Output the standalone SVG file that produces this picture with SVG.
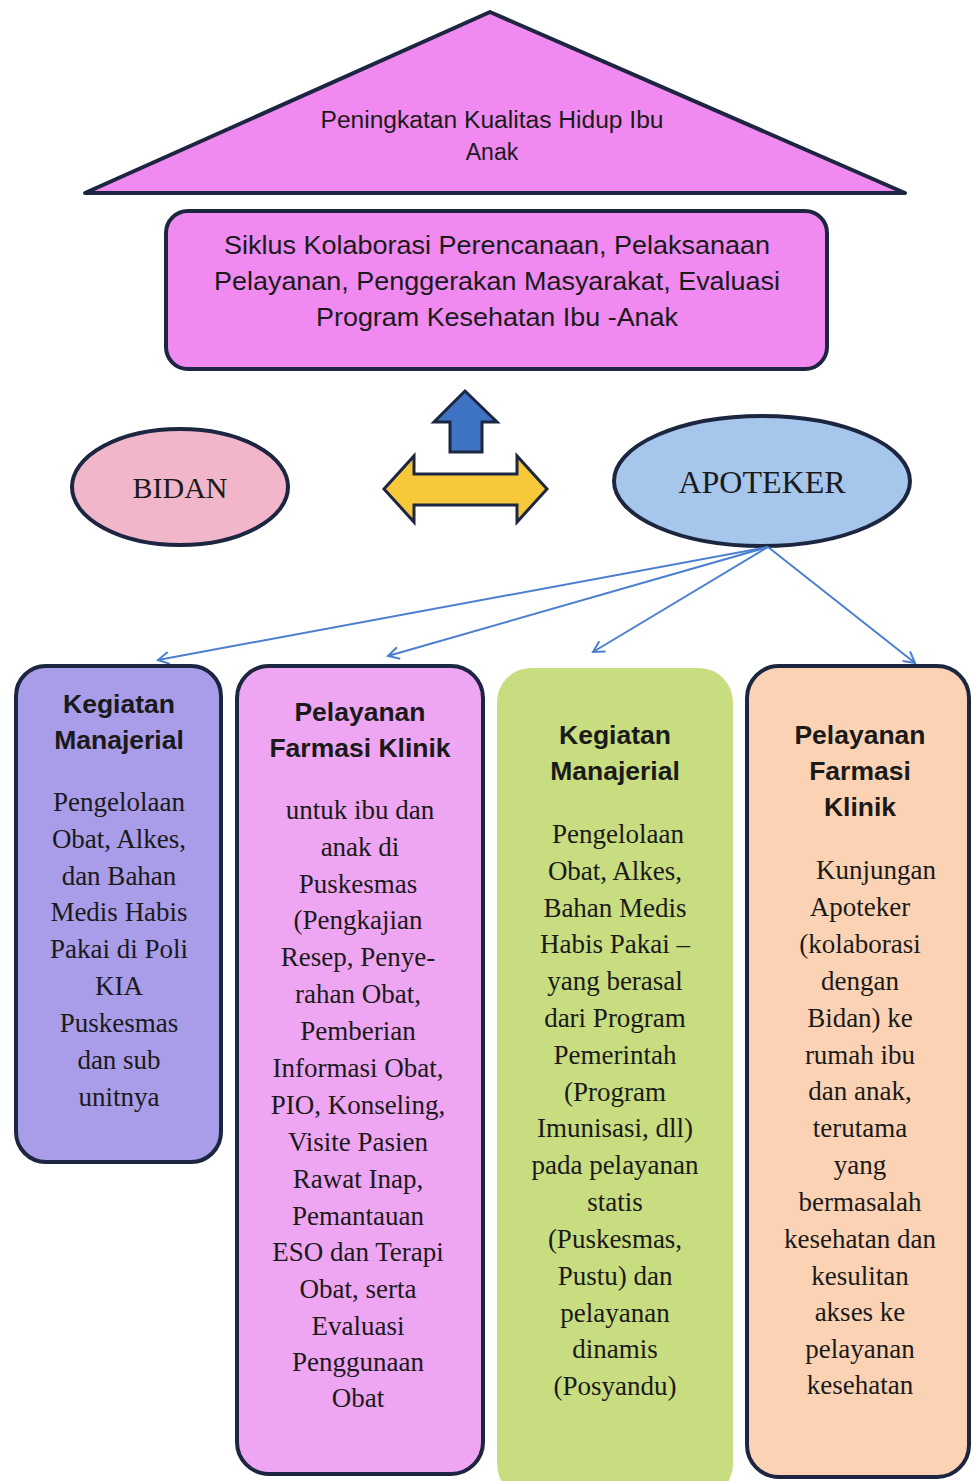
<svg xmlns="http://www.w3.org/2000/svg" width="973" height="1481" viewBox="0 0 973 1481">
<style>
.sans{font-family:"Liberation Sans",Arial,sans-serif;fill:#1a1a1a;text-anchor:middle}
.hd{font-family:"Liberation Sans",Arial,sans-serif;font-weight:bold;font-size:26.5px;fill:#1a1a1a;text-anchor:middle}
.bd{font-family:"Liberation Serif","Times New Roman",serif;font-size:27px;fill:#1a1a1a;text-anchor:middle}
.stk{stroke:#1c2640;stroke-width:4}
.conn{stroke:#4a7fd0;stroke-width:2;fill:none;marker-end:url(#ah)}
</style>
<defs>
<marker id="ah" viewBox="0 0 14 14" refX="12" refY="7" markerWidth="14" markerHeight="14" markerUnits="userSpaceOnUse" orient="auto">
<path d="M1,1 L12,7 L1,13" fill="none" stroke="#4a7fd0" stroke-width="2"/>
</marker>
</defs>
<rect width="973" height="1481" fill="#ffffff"/>
<g id="goal">
<polygon points="490,12 905,193 85,193" fill="#f08af0" class="stk" stroke-linejoin="round"/>
<text class="sans" font-size="23" x="492" y="128" textLength="343" lengthAdjust="spacingAndGlyphs">Peningkatan Kualitas Hidup Ibu</text>
<text class="sans" font-size="23" x="492" y="160">Anak</text>
</g>
<g id="siklus">
<rect x="166" y="211" width="661" height="158" rx="22" fill="#f08af0" class="stk"/>
<text class="sans" font-size="26.5" x="497" y="254" textLength="546" lengthAdjust="spacingAndGlyphs">Siklus Kolaborasi Perencanaan, Pelaksanaan</text>
<text class="sans" font-size="26.5" x="497" y="290" textLength="566" lengthAdjust="spacingAndGlyphs">Pelayanan, Penggerakan Masyarakat, Evaluasi</text>
<text class="sans" font-size="26.5" x="497" y="326" textLength="362" lengthAdjust="spacingAndGlyphs">Program Kesehatan Ibu -Anak</text>
</g>
<g id="up-arrow">
<polygon points="465,391 497,422 482,422 482,452 450,452 450,422 434,422" fill="#3f74c4" stroke="#1c2640" stroke-width="3" stroke-linejoin="miter"/>
</g>
<g id="double-arrow">
<polygon points="384,489 414,456 414,474 517,474 517,456 547,489 517,522 517,505 414,505 414,522" fill="#f7c93a" stroke="#1c2640" stroke-width="3"/>
</g>
<g id="bidan">
<ellipse cx="180" cy="487" rx="108" ry="58" fill="#f2b6ca" class="stk"/>
<text x="180" y="498" font-family="'Liberation Serif','Times New Roman',serif" font-size="30" fill="#1a1a1a" text-anchor="middle">BIDAN</text>
</g>
<g id="apoteker">
<ellipse cx="762" cy="481" rx="148" ry="65" fill="#a6c6ec" class="stk"/>
<text x="762" y="493" font-family="'Liberation Serif','Times New Roman',serif" font-size="32" fill="#1a1a1a" text-anchor="middle">APOTEKER</text>
</g>
<g id="connectors">
<line class="conn" x1="768" y1="547" x2="158" y2="660"/>
<line class="conn" x1="768" y1="547" x2="388" y2="656"/>
<line class="conn" x1="768" y1="547" x2="593" y2="652"/>
<line class="conn" x1="768" y1="547" x2="915" y2="663"/>
</g>
<g id="box1">
<rect x="16" y="666" width="205" height="496" rx="30" fill="#a99ce8" class="stk"/>
<text class="hd" x="119" y="713">Kegiatan</text>
<text class="hd" x="119" y="749">Manajerial</text>
<text class="bd" x="119" y="811">Pengelolaan</text>
<text class="bd" x="119" y="848">Obat, Alkes,</text>
<text class="bd" x="119" y="885">dan Bahan</text>
<text class="bd" x="119" y="921">Medis Habis</text>
<text class="bd" x="119" y="958">Pakai di Poli</text>
<text class="bd" x="119" y="995">KIA</text>
<text class="bd" x="119" y="1032">Puskesmas</text>
<text class="bd" x="119" y="1069">dan sub</text>
<text class="bd" x="119" y="1106">unitnya</text>
</g>
<g id="box2">
<rect x="237" y="666" width="246" height="808" rx="32" fill="#efa6f2" class="stk"/>
<text class="hd" x="360" y="721">Pelayanan</text>
<text class="hd" x="360" y="757">Farmasi Klinik</text>
<text class="bd" x="360" y="819">untuk ibu dan</text>
<text class="bd" x="360" y="856">anak di</text>
<text class="bd" x="358" y="893">Puskesmas</text>
<text class="bd" x="358" y="929">(Pengkajian</text>
<text class="bd" x="358" y="966">Resep, Penye-</text>
<text class="bd" x="358" y="1003">rahan Obat,</text>
<text class="bd" x="358" y="1040">Pemberian</text>
<text class="bd" x="358" y="1077">Informasi Obat,</text>
<text class="bd" x="358" y="1114">PIO, Konseling,</text>
<text class="bd" x="358" y="1151">Visite Pasien</text>
<text class="bd" x="358" y="1188">Rawat Inap,</text>
<text class="bd" x="358" y="1225">Pemantauan</text>
<text class="bd" x="358" y="1261">ESO dan Terapi</text>
<text class="bd" x="358" y="1298">Obat, serta</text>
<text class="bd" x="358" y="1335">Evaluasi</text>
<text class="bd" x="358" y="1371">Penggunaan</text>
<text class="bd" x="358" y="1407">Obat</text>
</g>
<g id="box3">
<rect x="497" y="668" width="236" height="830" rx="34" fill="#c8dc80"/>
<text class="hd" x="615" y="744">Kegiatan</text>
<text class="hd" x="615" y="780">Manajerial</text>
<text class="bd" x="618" y="843">Pengelolaan</text>
<text class="bd" x="615" y="880">Obat, Alkes,</text>
<text class="bd" x="615" y="917">Bahan Medis</text>
<text class="bd" x="615" y="953">Habis Pakai –</text>
<text class="bd" x="615" y="990">yang berasal</text>
<text class="bd" x="615" y="1027">dari Program</text>
<text class="bd" x="615" y="1064">Pemerintah</text>
<text class="bd" x="615" y="1101">(Program</text>
<text class="bd" x="615" y="1137">Imunisasi, dll)</text>
<text class="bd" x="615" y="1174">pada pelayanan</text>
<text class="bd" x="615" y="1211">statis</text>
<text class="bd" x="615" y="1248">(Puskesmas,</text>
<text class="bd" x="615" y="1285">Pustu) dan</text>
<text class="bd" x="615" y="1322">pelayanan</text>
<text class="bd" x="615" y="1358">dinamis</text>
<text class="bd" x="615" y="1395">(Posyandu)</text>
</g>
<g id="box4">
<rect x="747" y="666" width="222" height="811" rx="32" fill="#fcd2b4" class="stk"/>
<text class="hd" x="860" y="744">Pelayanan</text>
<text class="hd" x="860" y="780">Farmasi</text>
<text class="hd" x="860" y="816">Klinik</text>
<text class="bd" x="876" y="879">Kunjungan</text>
<text class="bd" x="860" y="916">Apoteker</text>
<text class="bd" x="860" y="953">(kolaborasi</text>
<text class="bd" x="860" y="990">dengan</text>
<text class="bd" x="860" y="1027">Bidan) ke</text>
<text class="bd" x="860" y="1064">rumah ibu</text>
<text class="bd" x="860" y="1100">dan anak,</text>
<text class="bd" x="860" y="1137">terutama</text>
<text class="bd" x="860" y="1174">yang</text>
<text class="bd" x="860" y="1211">bermasalah</text>
<text class="bd" x="860" y="1248">kesehatan dan</text>
<text class="bd" x="860" y="1285">kesulitan</text>
<text class="bd" x="860" y="1321">akses ke</text>
<text class="bd" x="860" y="1358">pelayanan</text>
<text class="bd" x="860" y="1394">kesehatan</text>
</g>
</svg>
